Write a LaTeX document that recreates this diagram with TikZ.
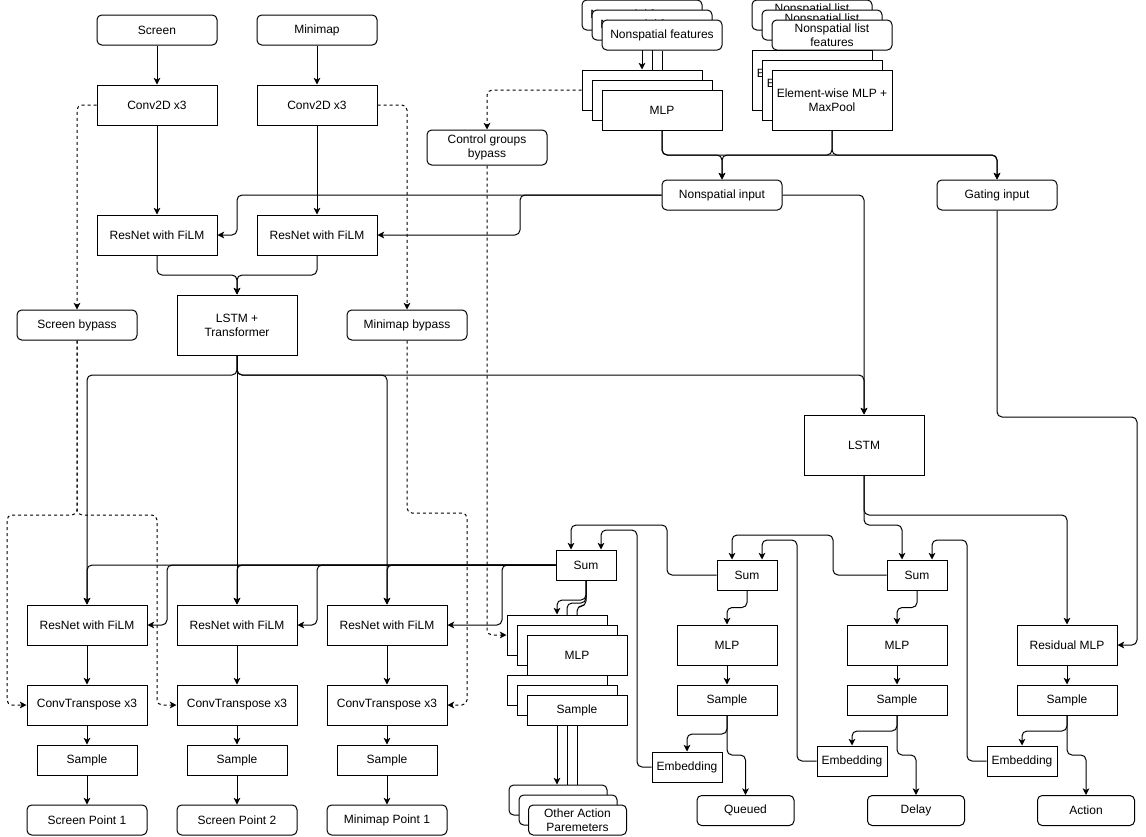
\documentclass[tikz,border=0pt]{standalone}
\usepackage{fontspec}
\setmainfont{Liberation Sans}
\usetikzlibrary{arrows.meta,calc}
\pgfdeclarelayer{bg}
\pgfsetlayers{bg,main}
\begin{document}
\begin{tikzpicture}[x=0.75pt,y=-0.75pt,
  every node/.style={font=\fontsize{9pt}{10.5pt}\selectfont, align=center, inner sep=0pt},
  bx/.style 2 args={draw, fill=white, line width=0.75pt, minimum width=#1*0.75pt, minimum height=#2*0.75pt},
  rbx/.style 2 args={bx={#1}{#2}, rounded corners=3.5pt},
  ln/.style={line width=0.75pt, rounded corners=3.75pt},
  ar/.style={ln, -{Stealth[length=5pt,width=5pt,inset=1.3pt]}},
  dsh/.style={dash pattern=on 2.25pt off 2.25pt}
]
\useasboundingbox (0,0) rectangle (1146,836);

% ---------- top left ----------
\node[rbx={120}{30}] (scr) at (157,30) {Screen};
\node[rbx={120}{30}] (mini) at (317,30) {Minimap};
\node[bx={120}{40}] (c1) at (157,105) {Conv2D x3};
\node[bx={120}{40}] (c2) at (317,105) {Conv2D x3};
\node[bx={120}{40}] (rA) at (157,235) {ResNet with FiLM};
\node[bx={120}{40}] (rB) at (317,235) {ResNet with FiLM};
\node[bx={120}{60}] (lt) at (237,325) {LSTM +\\Transformer};
\node[rbx={120}{30}] (sb) at (77,325) {Screen bypass};
\node[rbx={120}{30}] (mb) at (407,325) {Minimap bypass};
\node[rbx={120}{35}] (cg) at (487,147.5) {Control groups\\bypass};

% ---------- top right ----------
\node[rbx={120}{30}] (nfa) at (642,15) {Nonspatial features};
\node[rbx={120}{30}] (nfb) at (652,25) {Nonspatial features};
\node[rbx={120}{30}] (nfc) at (662,35) {Nonspatial features};
\node[bx={120}{40}] (mlpa) at (642,90) {};
\node[bx={120}{40}] (mlpb) at (652,100) {};
\node[bx={120}{40}] (mlpc) at (662,110) {MLP};
\node[rbx={120}{30}] (nla) at (812,15) {Nonspatial list\\features};
\node[rbx={120}{30}] (nlb) at (822,25) {Nonspatial list\\features};
\node[rbx={120}{30}] (nlc) at (832,35) {Nonspatial list\\features};
\node[bx={120}{60}] (ea) at (812,80) {Element-wise MLP +\\MaxPool};
\node[bx={120}{60}] (eb) at (822,90) {Element-wise MLP +\\MaxPool};
\node[bx={120}{60}] (ec) at (832,100) {Element-wise MLP +\\MaxPool};
\node[rbx={120}{30}] (ni) at (722,195) {Nonspatial input};
\node[rbx={120}{30}] (gi) at (997,195) {Gating input};
\node[bx={120}{60}] (lstm) at (864,445) {LSTM};

% ---------- bottom left ----------
\node[bx={120}{40}] (fA) at (87,625) {ResNet with FiLM};
\node[bx={120}{40}] (fB) at (237,625) {ResNet with FiLM};
\node[bx={120}{40}] (fC) at (387,625) {ResNet with FiLM};
\node[bx={120}{40}] (tA) at (87,705) {ConvTranspose x3};
\node[bx={120}{40}] (tB) at (237,705) {ConvTranspose x3};
\node[bx={120}{40}] (tC) at (387,705) {ConvTranspose x3};
\node[bx={100}{30}] (sA) at (87,760) {Sample};
\node[bx={100}{30}] (sB) at (237,760) {Sample};
\node[bx={100}{30}] (sC) at (387,760) {Sample};
\node[rbx={120}{30}] (pA) at (87,820) {Screen Point 1};
\node[rbx={120}{30}] (pB) at (237,820) {Screen Point 2};
\node[rbx={120}{30}] (pC) at (387,820) {Minimap Point 1};

% ---------- middle ----------
\node[bx={60}{30}] (sum1) at (586,565) {Sum};
\node[bx={100}{40}] (m1a) at (557,635) {};
\node[bx={100}{40}] (m1b) at (567,645) {};
\node[bx={100}{40}] (m1c) at (577,655) {MLP};
\node[bx={100}{30}] (s1a) at (557,690) {};
\node[bx={100}{30}] (s1b) at (567,700) {};
\node[bx={100}{30}] (s1c) at (577,710) {Sample};
\node[rbx={98}{30}] (oa) at (558,800) {};
\node[rbx={98}{30}] (ob) at (568,810) {};
\node[rbx={98}{30}] (oc) at (577.5,820) {Other Action\\Paremeters};

\node[bx={60}{30}] (sum2) at (747,575) {Sum};
\node[bx={100}{40}] (mlp2) at (727,645) {MLP};
\node[bx={100}{30}] (smp2) at (727,700) {Sample};
\node[bx={70}{30}] (emb2) at (687,767) {Embedding};
\node[rbx={97}{30}] (q) at (745.5,810.5) {Queued};

\node[bx={60}{30}] (sum3) at (917,575) {Sum};
\node[bx={100}{40}] (mlp3) at (897,645) {MLP};
\node[bx={100}{30}] (smp3) at (897,700) {Sample};
\node[bx={70}{30}] (emb3) at (852,761) {Embedding};
\node[rbx={97}{30}] (dl) at (916,810.5) {Delay};

\node[bx={100}{40}] (rmlp) at (1067,645) {Residual MLP};
\node[bx={100}{30}] (smp4) at (1067,700) {Sample};
\node[bx={70}{30}] (emb4) at (1022,761) {Embedding};
\node[rbx={97}{30}] (act) at (1086,810.5) {Action};

\begin{pgfonlayer}{bg}
% top left
\draw[ar] (scr) -- (c1);
\draw[ar] (mini) -- (c2);
\draw[ar] (c1) -- (rA);
\draw[ar] (c2) -- (rB);
\draw[ar,dsh] (c1.west) -| (sb.north);
\draw[ar,dsh] (c2.east) -| (mb.north);
\draw[ar] (rA.south) -- (157,275) -| (lt.north);
\draw[ar] (rB.south) -- (317,275) -| (lt.north);
\draw[ar] (ni.west) -- (237,195) |- (rA.east);
\draw[ar] (ni.west) -- (520,195) |- (rB.east);
\draw[ar] (ni.east) -| (lstm.north);
% top right
\draw[ar] (nfa) -- (mlpa);
\draw[ar] (nfb) -- (mlpb);
\draw[ar] (nfc) -- (mlpc);
\draw[ar] (nla) -- (ea);
\draw[ar] (nlb) -- (eb);
\draw[ar] (nlc) -- (ec);
\draw[ar] (mlpc.south) -- (662,155) -| (ni.north);
\draw[ar] (ec.south) -- (832,155) -| (ni.north);
\draw[ar] (mlpc.south) -- (662,155) -| (gi.north);
\draw[ar] (ec.south) -- (832,155) -| (gi.north);
\draw[ar,dsh] (mlpa.west) -| (cg.north);
\draw[ar,dsh] (cg.south) |- (m1a.west);
\draw[ar] (gi.south) -- (997,417) -- (1137,417) |- (rmlp.east);
% LSTM + Transformer outputs
\draw[ar] (lt.south) -- (237,375) -| (fA.north);
\draw[ar] (lt.south) -- (fB.north);
\draw[ar] (lt.south) -- (237,375) -| (fC.north);
\draw[ar] (lt.south) -- (237,375) -| (lstm.north);
% LSTM outputs
\draw[ar] (lstm.south) -- (864,515) -| (rmlp.north);
\draw[ar] (lstm.south) -- (864,525) -| ($(sum3.north)+(-15,0)$);
% sums chain
\draw[ar] (sum3.west) -- (833,575) -- (833,535) -| ($(sum2.north)+(-15,0)$);
\draw[ar] (sum2.west) -- (667,575) -- (667,525) -| ($(sum1.north)+(-15,0)$);
\draw[ar] (emb4.west) -- (967,761) -- (967,540) -| ($(sum3.north)+(15,0)$);
\draw[ar] (emb3.west) -- (797,761) -- (797,540) -| ($(sum2.north)+(15,0)$);
\draw[ar] (emb2.west) -- (637,767) -- (637,530) -| ($(sum1.north)+(15,0)$);
% heads
\draw[ar] (sum1.south) -- (586,600) -| (m1a.north);
\draw[ar] (sum1.south) -- (586,603) -| (m1b.north);
\draw[ar] (sum1.south) -- (586,606) -| (m1c.north);
\draw[ar] (m1a) -- (s1a);
\draw[ar] (m1b) -- (s1b);
\draw[ar] (m1c) -- (s1c);
\draw[ar] (s1a.south) -- (oa.north -| s1a.south);
\draw[ar] (s1b.south) -- (ob.north -| s1b.south);
\draw[ar] (s1c.south) -- (oc.north -| s1c.south);
\draw[ar] (sum2.south) -- (747,607.5) -| (mlp2.north);
\draw[ar] (sum3.south) -- (917,607.5) -| (mlp3.north);
\draw[ar] (mlp2) -- (smp2);
\draw[ar] (mlp3) -- (smp3);
\draw[ar] (rmlp) -- (smp4);
\draw[ar] (smp2.south) -- (727,734) -| (emb2.north);
\draw[ar] (smp2.south) -- (727,755) -| (q.north);
\draw[ar] (smp3.south) -- (897,731) -| (emb3.north);
\draw[ar] (smp3.south) -- (897,755) -| (dl.north);
\draw[ar] (smp4.south) -- (1067,731) -| (emb4.north);
\draw[ar] (smp4.south) -- (1067,755) -| (act.north);
% Sum1 to spatial heads
\draw[ar] (sum1.west) -| (fA.north);
\draw[ar] (sum1.west) -| (fB.north);
\draw[ar] (sum1.west) -| (fC.north);
\draw[ar] (sum1.west) -- (167,565) |- (fA.east);
\draw[ar] (sum1.west) -- (317,565) |- (fB.east);
\draw[ar] (sum1.west) -- (502,565) |- (fC.east);
% bypasses
\draw[ar,dsh] (sb.south) -- (77,515) -- (7,515) |- (tA.west);
\draw[ar,dsh] (sb.south) -- (77,515) -- (157,515) |- (tB.west);
\draw[ar,dsh] (mb.south) -- (407,513) -- (467,513) |- (tC.east);
% spatial head chains
\draw[ar] (fA) -- (tA);
\draw[ar] (fB) -- (tB);
\draw[ar] (fC) -- (tC);
\draw[ar] (tA) -- (sA);
\draw[ar] (tB) -- (sB);
\draw[ar] (tC) -- (sC);
\draw[ar] (sA) -- (pA);
\draw[ar] (sB) -- (pB);
\draw[ar] (sC) -- (pC);
\end{pgfonlayer}
\end{tikzpicture}
\end{document}
